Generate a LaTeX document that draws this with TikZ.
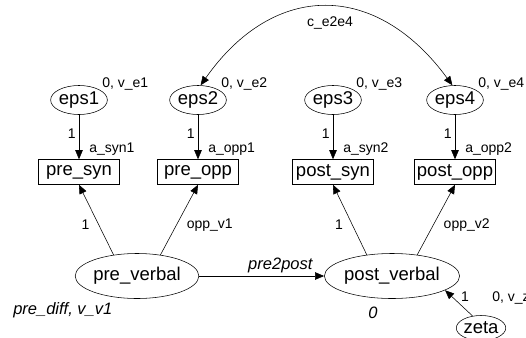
\documentclass[tikz,border=0pt]{standalone}
\usepackage{fontspec}
\setmainfont{Liberation Sans}
\usetikzlibrary{arrows.meta, shapes.geometric}
\begin{document}
\begin{tikzpicture}[x=1pt, y=-1pt, line width=0.55pt,
    latent/.style={draw, ellipse, inner sep=0pt, font=\fontsize{18.5}{20}\selectfont},
    obs/.style={draw, rectangle, inner sep=0pt, minimum width=81pt, minimum height=25pt,
        font=\fontsize{18.5}{20}\selectfont},
    lbl/.style={inner sep=0pt, font=\fontsize{14}{16}\selectfont},
    ilbl/.style={inner sep=0pt, font=\fontsize{16.5}{18}\selectfont\itshape},
    arr/.style={-{Triangle[length=9pt, width=7.5pt]}},
    arrb/.style={{Triangle[length=9pt, width=7.5pt]}-{Triangle[length=9pt, width=7.5pt]}}]
    \useasboundingbox (0,0) rectangle (526,337);
    \foreach \n/\x in {1/79, 2/198, 3/333, 4/455} {
        \node[latent, minimum width=48pt, minimum height=29pt] (eps\n) at (\x,100) {eps\n};
        \node[lbl, anchor=west] (var\n) at ([xshift=23pt, yshift=16pt]eps\n.center) {0, v\_e\n};
    }
    \node[obs] (presyn) at (79,172) {pre\_syn};
    \node[obs] (preopp) at (198,172) {pre\_opp};
    \node[obs] (postsyn) at (333,172) {post\_syn};
    \node[obs] (postopp) at (455,172) {post\_opp};
    \node[latent, minimum width=120pt, minimum height=45pt] (preverbal) at (137,276) {pre\_verbal};
    \node[latent, minimum width=120pt, minimum height=45pt] (postverbal) at (392,276) {post\_verbal};
    \node[latent, minimum width=44pt, minimum height=25pt] (zeta) at (481,328) {zeta};
    \foreach \e/\b/\a in {1/presyn/a\_syn1, 2/preopp/a\_opp1, 3/postsyn/a\_syn2, 4/postopp/a\_opp2} {
        \draw[arr] (eps\e) -- (\b)
            node[lbl, pos=0.42, left=3pt] {1}
            node[lbl, pos=0.78, right=10pt] {\a};
    }
    \draw[arrb] (eps2.80) .. controls (274,-19) and (376,-19) .. (eps4.100);
    \node[lbl] (cov) at (330,23) {c\_e2e4};
    \draw[arr] (preverbal.138) -- (presyn.south)
        node[lbl, pos=0.43, left=9pt] {1};
    \draw[arr] (preverbal.42) -- (preopp.south)
        node[lbl, pos=0.43, right=10pt] {opp\_v1};
    \draw[arr] (postverbal.140) -- (postsyn.south)
        node[lbl, pos=0.43, left=9pt] {1};
    \draw[arr] (postverbal.40) -- (postopp.south)
        node[lbl, pos=0.43, right=10pt] {opp\_v2};
    \draw[arr] (preverbal) -- (postverbal)
        node[ilbl, pos=0.65, above=3pt] {pre2post};
    \draw[arr] (zeta.125) -- (postverbal.-15);
    \node[lbl] (one) at (465,297) {1};
    \node[lbl, anchor=west] (varz) at (492,298) {0, v\_z};
    \node[ilbl, anchor=west] (prediff) at (13,310) {pre\_diff, v\_v1};
    \node[ilbl] (mean) at (373,313) {0};
\end{tikzpicture}
\end{document}
